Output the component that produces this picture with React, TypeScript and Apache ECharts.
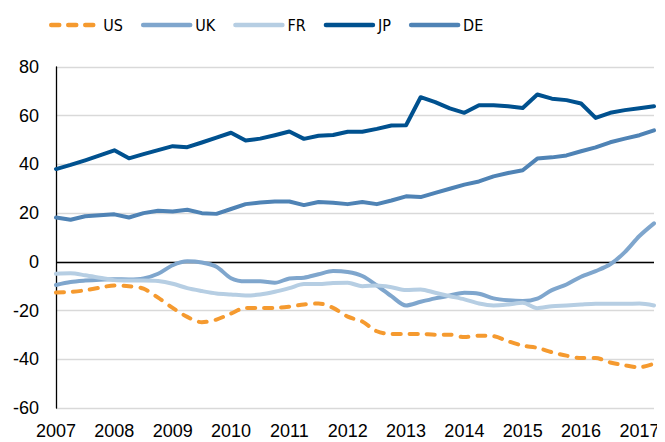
import React, { useEffect, useRef } from "react";
import * as echarts from "echarts";

const years = ["2007", "2008", "2009", "2010", "2011", "2012", "2013", "2014", "2015", "2016", "2017"];
const quarters: string[] = [];
for (let y = 2007; y <= 2017; y++) {
  for (let q = 1; q <= 4; q++) {
    if (y === 2017 && q > 2) break;
    quarters.push(y + "Q" + q);
  }
}

const US = [-12.6, -12.3, -11.7, -10.6, -9.7, -10, -11, -14.7, -18.9, -22.6, -24.8, -23.7, -21.2, -18.9, -18.9, -18.9, -18.4, -17.5, -17.1, -18.9, -22.5, -24.5, -28.5, -29.6, -29.6, -29.6, -29.9, -29.9, -30.9, -30.3, -30.5, -32.6, -34.4, -35.3, -37.1, -38.5, -39.5, -39.5, -41.3, -42.5, -43.3, -41.8];
const UK = [-9.5, -8.3, -7.7, -7.3, -7.1, -7.2, -6.8, -4.9, -1.4, 0.2, -0.3, -2, -6.7, -8, -8, -8.6, -6.8, -6.5, -5.1, -3.8, -4.2, -5.8, -9.7, -14.1, -17.9, -16.4, -15, -13.8, -12.7, -13.1, -15, -15.8, -16.1, -15.1, -11.6, -9.3, -6.1, -3.8, -1, 4, 10.6, 15.8];
const FR = [-4.9, -4.7, -5.5, -6.5, -7.5, -7.7, -7.7, -7.9, -9, -10.8, -12, -13, -13.4, -13.8, -13.4, -12.3, -10.8, -9.1, -9.1, -8.7, -8.6, -10, -9.7, -10.4, -11.6, -11.3, -12.7, -14.1, -15.4, -17.1, -17.9, -17.5, -16.8, -19, -18.2, -17.9, -17.5, -17.2, -17.2, -17.2, -17.1, -17.9];
const JP = [38.1, 39.8, 41.7, 43.7, 45.8, 42.5, 44.2, 45.9, 47.5, 47.1, 49, 51, 53, 49.8, 50.6, 52, 53.5, 50.5, 51.8, 52.1, 53.4, 53.4, 54.6, 56, 56.1, 67.6, 65.6, 63, 61.2, 64.3, 64.3, 63.9, 63.2, 68.7, 67, 66.4, 65, 59.1, 61.2, 62.3, 63.1, 63.9];
const DE = [18.2, 17.3, 18.7, 19.1, 19.5, 18.2, 20, 21, 20.7, 21.4, 20, 19.7, 21.7, 23.7, 24.4, 24.8, 24.8, 23.3, 24.6, 24.3, 23.7, 24.6, 23.7, 25.2, 26.9, 26.6, 28.3, 30, 31.7, 33, 35.1, 36.5, 37.6, 42.4, 42.9, 43.7, 45.4, 47, 49.1, 50.6, 52, 54];

const yTicks = [-60, -40, -20, 0, 20, 40, 60, 80];

export default function App() {
  const ref = useRef<HTMLDivElement>(null);
  useEffect(() => {
    if (!ref.current) return;
    const chart = echarts.init(ref.current, null, { renderer: "svg" });
    const font = "'Liberation Sans', Arial, sans-serif";
    const mk = (name: string, data: number[], color: string, smooth: number | boolean, dashed = false, extra: any = {}) => ({
      name,
      type: "line",
      data,
      symbol: "none",
      smooth,
      lineStyle: {
        color,
        width: 4,
        type: dashed ? [8, 9] : "solid",
        cap: "round",
        join: "round",
      },
      itemStyle: { color },
      z: 3,
      ...extra,
    });
    chart.setOption({
      animation: false,
      backgroundColor: "#fff",
      legend: {
        left: 44,
        top: 12,
        itemWidth: 47,
        itemHeight: 20,
        itemGap: 18,
        itemStyle: { opacity: 0 },
        lineStyle: { width: 4.5, cap: "round" },
        textStyle: {
          fontFamily: "'DejaVu Sans Condensed', 'Liberation Sans Narrow', 'Liberation Sans', sans-serif",
          fontSize: 16,
          color: "#000",
        },
        data: ["US", "UK", "FR", "JP", "DE"],
      },
      grid: { left: 56, right: 11, top: 67, bottom: 34, containLabel: false },
      xAxis: {
        type: "category",
        data: quarters,
        boundaryGap: false,
        axisLine: { show: false },
        axisTick: { show: false },
        splitLine: { show: false },
        axisLabel: {
          interval: 3,
          margin: 14,
          fontFamily: font,
          fontSize: 18,
          color: "#000",
          formatter: (v: string) => (v.endsWith("Q1") && years.includes(v.slice(0, 4)) ? v.slice(0, 4) : ""),
        },
      },
      yAxis: {
        type: "value",
        min: yTicks[0],
        max: yTicks[yTicks.length - 1],
        interval: 20,
        axisLine: { show: true, lineStyle: { color: "#000", width: 1.3 } },
        axisTick: { show: false },
        splitLine: { show: true, lineStyle: { color: "#D9D9D9", width: 1.3 } },
        axisLabel: { margin: 17, fontFamily: font, fontSize: 18, color: "#000" },
      },
      series: [
        mk("US", US, "#F59A2F", 0.3, true, {
          markLine: {
            silent: true,
            symbol: "none",
            label: { show: false },
            lineStyle: { color: "#000", width: 1.3, type: "solid" },
            data: [{ yAxis: 0 }],
            z: 1,
          },
        }),
        mk("UK", UK, "#7FA6CD", 0.3),
        mk("FR", FR, "#B6CEE3", 0.3),
        mk("JP", JP, "#00518F", false),
        mk("DE", DE, "#4F83B5", false),
      ],
    });
    return () => chart.dispose();
  }, []);
  return <div ref={ref} style={{ width: 665, height: 442, marginLeft: -8, marginTop: -8 }} />;
}
